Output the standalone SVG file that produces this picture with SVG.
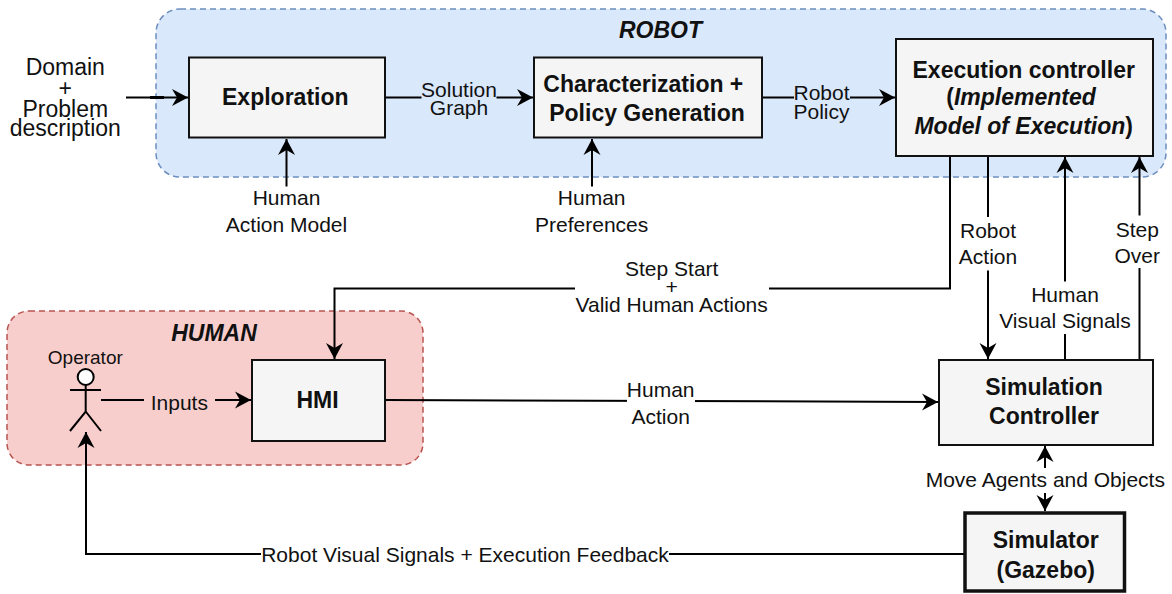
<svg xmlns="http://www.w3.org/2000/svg" width="1172" height="594" viewBox="0 0 1172 594">
<style>
text{font-family:"Liberation Sans",Arial,sans-serif;fill:#111;text-anchor:middle}
.l{font-size:21px}
.d{font-size:23px}
.b{font-size:23px;font-weight:bold}
.t{font-size:23px;font-weight:bold;font-style:italic}
.n{fill:#f5f5f5;stroke:#111;stroke-width:2}
.c{fill:none;stroke:#000;stroke-width:2}
</style>
<defs>
<marker id="a" markerUnits="userSpaceOnUse" markerWidth="18" markerHeight="18" refX="16" refY="9" orient="auto"><path d="M0 .5L16 9L0 17.500L5 9Z" fill="#000"/></marker>
</defs>
<g id="robot-region"><rect x="156" y="9" width="1010" height="168" rx="24" fill="#dae8fc" stroke="#6c8ebf" stroke-width="1.500" stroke-dasharray="6 4"/><text class="t" x="660.500" y="38">ROBOT</text></g>
<g id="human-region"><rect x="7" y="311" width="416" height="154" rx="22" fill="#f8cecc" stroke="#b85450" stroke-width="1.500" stroke-dasharray="6 4"/><text class="t" x="214" y="341">HUMAN</text></g>
<g id="connectors">
<path class="c" d="M126 97.500H188" marker-end="url(#a)"/>
<path d="M150 97.500H164" stroke="#000" stroke-width="3"/>
<path class="c" d="M385 97.500H533" marker-end="url(#a)"/>
<path class="c" d="M762 97.500H895" marker-end="url(#a)"/>
<path class="c" d="M286.500 186.500V139" marker-end="url(#a)"/>
<path class="c" d="M592 186.500V139" marker-end="url(#a)"/>
<path class="c" d="M950 156V288.500H334.500V359" marker-end="url(#a)"/>
<path class="c" d="M988 156V359" marker-end="url(#a)"/>
<path class="c" d="M1065 360V157" marker-end="url(#a)"/>
<path class="c" d="M1139.500 360V157" marker-end="url(#a)"/>
<path class="c" d="M101 400H251" marker-end="url(#a)"/>
<path class="c" d="M385 400L938 402" marker-end="url(#a)"/>
<path class="c" d="M1045 493V446" marker-end="url(#a)"/>
<path class="c" d="M1045 465V511" marker-end="url(#a)"/>
<path class="c" d="M965 554H86V432" marker-end="url(#a)"/>
</g>
<g id="edge-labels">
<rect x="421.500" y="78" width="75" height="40" fill="#dae8fc"/><text class="l" x="459" y="96.700">Solution</text><text class="l" x="459" y="115">Graph</text>
<rect x="794" y="84" width="56" height="40" fill="#dae8fc"/><text class="l" x="821.500" y="100">Robot</text><text class="l" x="821.500" y="119">Policy</text>
<rect x="575" y="259" width="194" height="58" fill="#fff"/><text class="l" x="671.700" y="276">Step Start</text><text class="l" x="671.700" y="293.500">+</text><text class="l" x="671.700" y="311.700">Valid Human Actions</text>
<rect x="958" y="217" width="60" height="53.500" fill="#fff"/><text class="l" x="988" y="238">Robot</text><text class="l" x="988" y="264">Action</text>
<rect x="1030" y="281.500" width="70" height="52.500" fill="#fff"/><text class="l" x="1065" y="301.700">Human</text><text class="l" x="1065" y="328">Visual Signals</text>
<rect x="1114" y="215.500" width="50" height="52.500" fill="#fff"/><text class="l" x="1137.300" y="237.300">Step</text><text class="l" x="1137.300" y="263">Over</text>
<rect x="144" y="388" width="71" height="26" fill="#f8cecc"/><text class="l" x="179.300" y="410">Inputs</text>
<rect x="627" y="378" width="68" height="50" fill="#fff"/><text class="l" x="660.700" y="397">Human</text><text class="l" x="660.700" y="424">Action</text>
<rect x="925" y="468" width="240" height="25" fill="#fff"/><text class="l" x="1045.300" y="487">Move Agents and Objects</text>
<rect x="261" y="542" width="408" height="24" fill="#fff"/><text class="l" x="465" y="561.700">Robot Visual Signals + Execution Feedback</text>
</g>
<g id="input-domain"><text class="d" x="65.300" y="75">Domain</text><text class="d" x="65.300" y="96">+</text><text class="d" x="65.300" y="116.700">Problem</text><text class="d" x="65.300" y="135.700">description</text></g>
<g id="input-action-model"><text class="l" x="286.500" y="205">Human</text><text class="l" x="286.500" y="231.700">Action Model</text></g>
<g id="input-preferences"><text class="l" x="591.700" y="205">Human</text><text class="l" x="591.700" y="231.700">Preferences</text></g>
<g id="exploration"><rect class="n" x="189" y="57.500" width="196" height="80"/><text class="b" x="285.300" y="105">Exploration</text></g>
<g id="characterization"><rect class="n" x="534" y="57.500" width="228" height="80"/><text class="b" x="643.300" y="91.700">Characterization +</text><text class="b" x="647" y="120.700">Policy Generation</text></g>
<g id="execution-controller"><rect class="n" x="896" y="39" width="257" height="117"/><text class="b" x="1023.700" y="77.700">Execution controller</text><text class="b" x="1021" y="105">(<tspan font-style="italic">Implemented</tspan></text><text class="b" x="1023.700" y="133.700"><tspan font-style="italic">Model of Execution</tspan>)</text></g>
<g id="hmi"><rect class="n" x="252" y="360" width="133" height="81"/><text class="b" x="317.500" y="408">HMI</text></g>
<g id="simulation-controller"><rect class="n" x="939" y="360" width="214" height="85"/><text class="b" x="1044" y="395">Simulation</text><text class="b" x="1044" y="424">Controller</text></g>
<g id="simulator"><rect x="965" y="513" width="159.500" height="78" fill="#f5f5f5" stroke="#111" stroke-width="3.500"/><text class="b" x="1045.700" y="548">Simulator</text><text class="b" x="1045.700" y="577.700">(Gazebo)</text></g>
<g id="operator"><text x="85.300" y="364" style="font-size:19px">Operator</text><circle cx="85.700" cy="377" r="8" fill="#fff" stroke="#000" stroke-width="2"/><path class="c" d="M85.700 385V411.500M70 390H101M70 431L85.700 411.500L101 431"/></g>
</svg>
